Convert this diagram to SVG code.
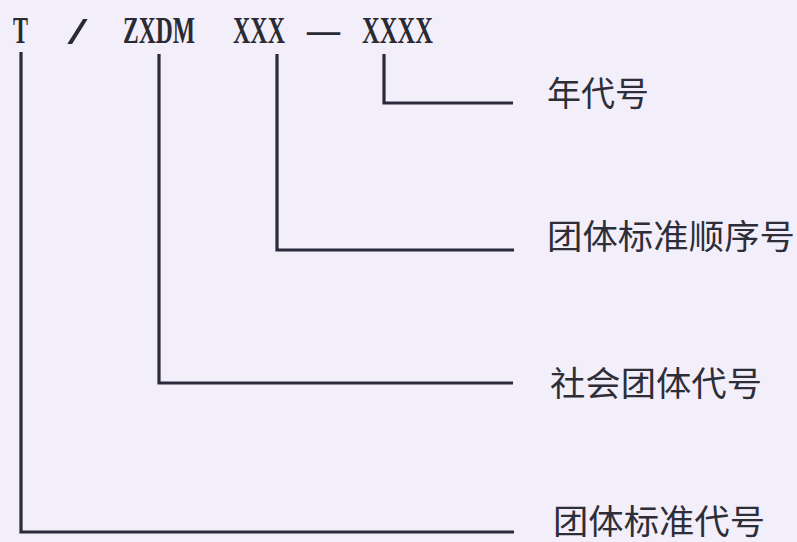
<svg xmlns="http://www.w3.org/2000/svg" width="797" height="542" viewBox="0 0 797 542">
<style>
.code{font-family:"Liberation Serif","DejaVu Serif",serif;font-size:38px;font-weight:bold;fill:#2a2a33}
.lab{font-family:"Noto Sans CJK SC","Noto Sans",sans-serif;font-size:34px;fill:#2e2e38}
.ln{fill:none;stroke:#2b2a3a;stroke-width:3.2;stroke-linejoin:miter}
</style>
<rect width="797" height="542" fill="#f2eefa"/>
<g id="code">
<text class="code" x="13" y="43" textLength="15" lengthAdjust="spacingAndGlyphs">T</text>
<text class="code" x="68" y="44" textLength="19" lengthAdjust="spacingAndGlyphs" font-weight="normal">/</text>
<text class="code" x="123" y="43" textLength="72" lengthAdjust="spacingAndGlyphs">ZXDM</text>
<text class="code" x="233" y="43" textLength="52" lengthAdjust="spacingAndGlyphs">XXX</text>
<text class="code" x="307" y="43" textLength="33" lengthAdjust="spacingAndGlyphs" font-weight="normal">—</text>
<text class="code" x="362" y="43" textLength="71" lengthAdjust="spacingAndGlyphs">XXXX</text>
</g>
<g id="connectors">
<polyline class="ln" points="384,54 384,103 513,103"/>
<polyline class="ln" points="277,54 277,250 514,250"/>
<polyline class="ln" points="159,54 159,383 513,383"/>
<polyline class="ln" points="21,52 21,532 514,532"/>
</g>
<g id="n-year"><text class="lab" x="547" y="106">年代号</text></g>
<g id="n-seq"><text class="lab" x="547" y="249" textLength="248" lengthAdjust="spacingAndGlyphs">团体标准顺序号</text></g>
<g id="n-org"><text class="lab" x="550" y="396" textLength="212" lengthAdjust="spacingAndGlyphs">社会团体代号</text></g>
<g id="n-std"><text class="lab" x="553" y="534" textLength="212" lengthAdjust="spacingAndGlyphs">团体标准代号</text></g>
</svg>
